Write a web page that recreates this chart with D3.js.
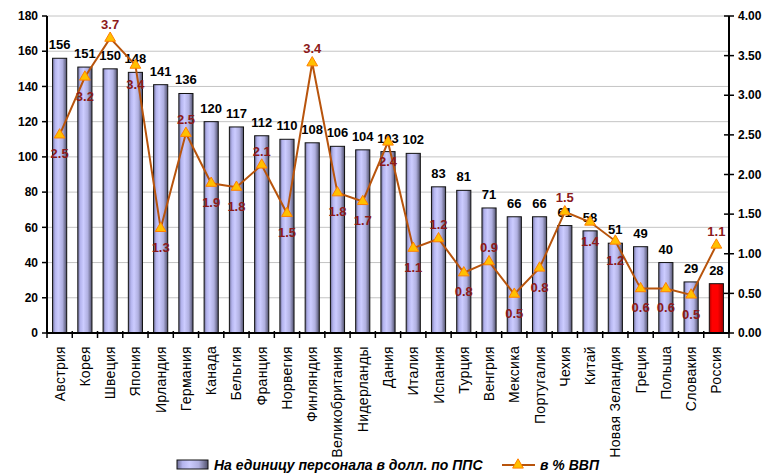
<!DOCTYPE html>
<html>
<head>
<meta charset="utf-8">
<script src="https://cdn.jsdelivr.net/npm/d3@7"></script>
<style>
  body { margin: 0; background: #fff; }
  svg { display: block; font-family: "Liberation Sans", Arial, sans-serif; }
</style>
</head>
<body>
<svg id="chart"></svg>
<script>
const width = 769;
const height = 473;
const margin = { top: 16, right: 40, bottom: 140, left: 47 };

const countries = ["Австрия", "Корея", "Швеция", "Япония", "Ирландия", "Германия", "Канада", "Бельгия",
    "Франция", "Норвегия", "Финляндия", "Великобритания", "Нидерланды", "Дания", "Италия", "Испания",
    "Турция", "Венгрия", "Мексика", "Португалия", "Чехия", "Китай", "Новая Зеландия", "Греция",
    "Польша", "Словакия", "Россия"];
const perStaff = [156, 151, 150, 148, 141, 136, 120, 117, 112, 110, 108, 106, 104, 103, 102, 83,
    81, 71, 66, 66, 61, 58, 51, 49, 40, 29, 28];
const gdpShare = [2.5, 3.23, 3.72, 3.38, 1.32, 2.52, 1.89, 1.84, 2.12, 1.51, 3.41, 1.77, 1.66, 2.41,
    1.07, 1.19, 0.76, 0.9, 0.49, 0.82, 1.53, 1.4, 1.16, 0.56, 0.56, 0.48, 1.11];
const labelAbove = ["Швеция", "Германия", "Франция", "Финляндия", "Испания", "Венгрия", "Чехия", "Россия"];
const leftTicks = [0, 20, 40, 60, 80, 100, 120, 140, 160, 180];
const rightTicks = [0, 0.5, 1, 1.5, 2, 2.5, 3, 3.5, 4];
const legendBars = "На единицу персонала в долл. по ППС";
const legendLine = "в % ВВП";

const svg = d3.select("#chart")
    .attr("width", width)
    .attr("height", height);

const x0 = margin.left, x1 = width - margin.right;
const yBottom = height - margin.bottom, yTop = margin.top;

const x = d3.scaleBand()
    .domain(countries)
    .range([x0, x1])
    .paddingInner(0.44)
    .paddingOuter(0.22);

const y = d3.scaleLinear().domain([0, 180]).range([yBottom, yTop]);
const y2 = d3.scaleLinear().domain([0, 4]).range([yBottom, yTop]);

// gradients
const defs = svg.append("defs");
function grad(id, stops) {
    const g = defs.append("linearGradient").attr("id", id)
        .attr("x1", "0%").attr("x2", "100%").attr("y1", "0%").attr("y2", "0%");
    stops.forEach(([o, c]) => g.append("stop").attr("offset", o).attr("stop-color", c));
}
grad("barGrad", [["0%", "#6e6e96"], ["18%", "#b4b4ee"], ["40%", "#ccccff"], ["70%", "#b0b0e0"], ["100%", "#50506a"]]);
grad("redGrad", [["0%", "#b00000"], ["20%", "#ff0000"], ["60%", "#ff0000"], ["100%", "#a00000"]]);

// grid
svg.append("g")
    .selectAll("line")
    .data(leftTicks.filter(d => d > 0))
    .join("line")
    .attr("x1", x0).attr("x2", x1)
    .attr("y1", d => y(d)).attr("y2", d => y(d))
    .attr("stroke", "#c4c4c4")
    .attr("stroke-width", 1);

// bars
svg.append("g")
    .selectAll("rect")
    .data(countries)
    .join("rect")
    .attr("x", d => x(d))
    .attr("width", x.bandwidth())
    .attr("y", (d, i) => y(perStaff[i]))
    .attr("height", (d, i) => yBottom - y(perStaff[i]))
    .attr("fill", d => d === "Россия" ? "url(#redGrad)" : "url(#barGrad)")
    .attr("stroke", "#111")
    .attr("stroke-width", 1);

// bar labels
svg.append("g")
    .selectAll("text")
    .data(countries)
    .join("text")
    .attr("x", d => x(d) + x.bandwidth() / 2)
    .attr("y", (d, i) => y(perStaff[i]) - 9)
    .attr("text-anchor", "middle")
    .style("font-size", "13px")
    .style("font-weight", "bold")
    .attr("fill", "#000")
    .text((d, i) => perStaff[i]);

// left axis
const leftAxis = svg.append("g");
leftAxis.append("line")
    .attr("x1", x0).attr("x2", x0).attr("y1", yTop).attr("y2", yBottom)
    .attr("stroke", "#000").attr("stroke-width", 2);
leftAxis.selectAll(".tk").data(leftTicks).join("line")
    .attr("x1", x0 - 5).attr("x2", x0)
    .attr("y1", d => y(d)).attr("y2", d => y(d))
    .attr("stroke", "#000").attr("stroke-width", 1.5);
leftAxis.selectAll("text").data(leftTicks).join("text")
    .attr("x", x0 - 9)
    .attr("y", d => y(d))
    .attr("dy", "0.35em")
    .attr("text-anchor", "end")
    .style("font-size", "12px")
    .style("font-weight", "bold")
    .text(d => d);

// right axis
const rightAxis = svg.append("g");
rightAxis.append("line")
    .attr("x1", x1).attr("x2", x1).attr("y1", yTop).attr("y2", yBottom)
    .attr("stroke", "#000").attr("stroke-width", 2);
rightAxis.selectAll(".tk").data(rightTicks).join("line")
    .attr("x1", x1 - 5).attr("x2", x1 + 5)
    .attr("y1", d => y2(d)).attr("y2", d => y2(d))
    .attr("stroke", "#000").attr("stroke-width", 1.5);
rightAxis.selectAll("text").data(rightTicks).join("text")
    .attr("x", x1 + 9)
    .attr("y", d => y2(d))
    .attr("dy", "0.35em")
    .style("font-size", "12px")
    .style("font-weight", "bold")
    .text(d => d.toFixed(2));

// x axis
const bottomAxis = svg.append("g");
bottomAxis.append("line")
    .attr("x1", x0).attr("x2", x1).attr("y1", yBottom).attr("y2", yBottom)
    .attr("stroke", "#000").attr("stroke-width", 2);
const step = x.step();
bottomAxis.selectAll(".tk").data(d3.range(countries.length + 1)).join("line")
    .attr("x1", i => x0 + i * step).attr("x2", i => x0 + i * step)
    .attr("y1", yBottom - 2).attr("y2", yBottom + 5)
    .attr("stroke", "#000").attr("stroke-width", 1.5);
bottomAxis.selectAll("text").data(countries).join("text")
    .attr("transform", d => `translate(${x(d) + x.bandwidth() / 2 + 5}, ${yBottom + 13}) rotate(-90)`)
    .attr("text-anchor", "end")
    .style("font-size", "14px")
    .style("letter-spacing", "0.3px")
    .attr("fill", "#000")
    .text(d => d);

// line
const lineColor = "#b8540c";
const line = d3.line()
    .x((d, i) => x(countries[i]) + x.bandwidth() / 2)
    .y(d => y2(d));

svg.append("path")
    .datum(gdpShare)
    .attr("d", line)
    .attr("fill", "none")
    .attr("stroke", lineColor)
    .attr("stroke-width", 2);

const tri = d3.symbol().type(d3.symbolTriangle).size(50);
svg.append("g")
    .selectAll("path")
    .data(gdpShare)
    .join("path")
    .attr("d", tri)
    .attr("transform", (d, i) => `translate(${x(countries[i]) + x.bandwidth() / 2}, ${y2(d)})`)
    .attr("fill", "#ffc000")
    .attr("stroke", "#ff7f00")
    .attr("stroke-width", 1);

svg.append("g")
    .selectAll("text")
    .data(gdpShare)
    .join("text")
    .attr("x", (d, i) => x(countries[i]) + x.bandwidth() / 2)
    .attr("y", (d, i) => y2(d) + (labelAbove.includes(countries[i]) ? -14 : 19))
    .attr("dy", "0.35em")
    .attr("text-anchor", "middle")
    .style("font-size", "13px")
    .style("font-weight", "bold")
    .attr("fill", "#8c1a1a")
    .text(d => d.toFixed(1));

// legend
const legend = svg.append("g").attr("transform", `translate(177, 465)`);
legend.append("rect")
    .attr("x", 0).attr("y", -5)
    .attr("width", 31).attr("height", 9)
    .attr("fill", "url(#barGrad)")
    .attr("stroke", "#111");
legend.append("text")
    .attr("x", 37).attr("y", 0)
    .attr("dy", "0.35em")
    .style("font-size", "14px")
    .style("font-weight", "bold")
    .style("font-style", "italic")
    .text(legendBars);
legend.append("line")
    .attr("x1", 325).attr("x2", 358).attr("y1", 0).attr("y2", 0)
    .attr("stroke", lineColor).attr("stroke-width", 2);
legend.append("path")
    .attr("d", tri)
    .attr("transform", "translate(341, 0)")
    .attr("fill", "#ffc000")
    .attr("stroke", "#ff7f00");
legend.append("text")
    .attr("x", 363).attr("y", 0)
    .attr("dy", "0.35em")
    .style("font-size", "14px")
    .style("font-weight", "bold")
    .style("font-style", "italic")
    .text(legendLine);
</script>
</body>
</html>
